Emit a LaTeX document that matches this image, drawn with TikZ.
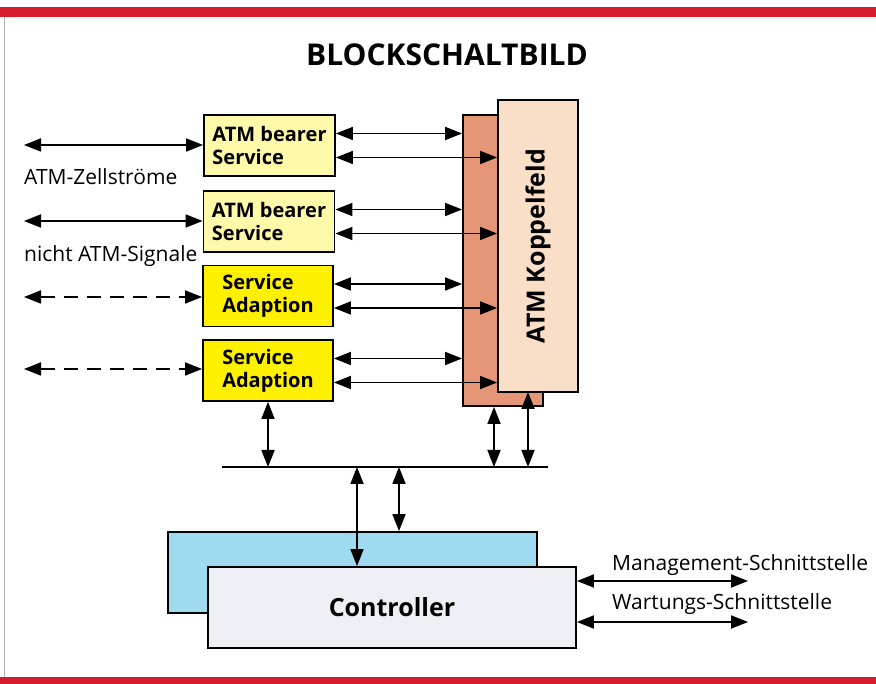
\documentclass[tikz,border=0pt]{standalone}
\usepackage{fontspec}
\setmainfont{Open Sans}
\usetikzlibrary{arrows.meta, calc}

\definecolor{rahmenrot}{RGB}{214,28,45}
\definecolor{hellgelb}{RGB}{255,250,170}
\definecolor{sattgelb}{RGB}{255,240,0}
\definecolor{lachs}{RGB}{228,150,118}
\definecolor{pfirsich}{RGB}{249,222,200}
\definecolor{hellblau}{RGB}{160,218,238}
\definecolor{grauweiss}{RGB}{238,239,245}

\tikzset{
    block/.style={draw, line width=1.8pt, align=left, inner sep=0pt,
        font=\bfseries\fontsize{20}{23}\selectfont},
    bearer/.style={block, fill=hellgelb, minimum width=131pt, minimum height=61pt},
    adapt/.style={block, fill=sattgelb, minimum width=130pt, minimum height=61pt},
    link/.style={<->, >={Triangle[length=17pt,width=13pt]}, line width=1.8pt},
    dashlink/.style={link, dash pattern=on 14pt off 9pt},
    sig/.style={anchor=west, inner sep=0pt, font=\fontsize{21}{25}\selectfont}
}

\begin{document}
\begin{tikzpicture}[x=1pt, y=-1pt]
        \useasboundingbox (0,0) rectangle (876,684);
        \fill[rahmenrot] (0,7) rectangle (876,17);
        \fill[rahmenrot] (0,677) rectangle (876,684);
        \draw[gray!60, line width=1pt] (4,17) -- (4,677);

        \node[font=\bfseries\fontsize{30}{36}\selectfont] (titel) at (447,55) {BLOCKSCHALTBILD};

        % Koppelfeld
        \node[draw, line width=1.8pt, fill=lachs, minimum width=80pt, minimum height=291pt] (kb) at (503,260.5) {};
        \node[draw, line width=1.8pt, fill=pfirsich, minimum width=80pt, minimum height=292pt] (kf) at (538,246) {};
        \node[rotate=90, font=\bfseries\fontsize{25}{30}\selectfont] (ktext) at (kf.center) {ATM Koppelfeld};

        % Anschlussbloecke
        \node[bearer] (b1) at (269.5,145.5) {ATM bearer\\Service};
        \node[bearer] (b2) at (269,221.5) {ATM bearer\\Service};
        \node[adapt] (b3) at (268,296) {Service\\Adaption};
        \node[adapt] (b4) at (268,370.5) {Service\\Adaption};

        \foreach \b in {b1, b2, b3, b4} {
            \coordinate (o) at ([yshift=12pt]\b.east);
            \coordinate (u) at ([yshift=-12pt]\b.east);
            \draw[link] (o) -- (o -| kb.west);
            \draw[link] (u) -- (u -| kf.west);
        }

        % Eingaenge
        \coordinate (in1) at (24,145);
        \coordinate (in2) at (24,221);
        \coordinate (in3) at (24,297);
        \coordinate (in4) at (24,369);
        \draw[link] (in1) -- (in1 -| b1.west);
        \draw[link] (in2) -- (in2 -| b2.west);
        \draw[dashlink] (in3) -- (in3 -| b3.west);
        \draw[dashlink] (in4) -- (in4 -| b4.west);
        \node[sig] (zell) at (24,177) {ATM-Zellstr\"ome};
        \node[sig] (nicht) at (24,256) {nicht ATM-Signale};

        % Bus
        \coordinate (busl) at (222,467);
        \coordinate (busr) at (548,467);
        \draw[line width=1.8pt] (busl) -- (busr);
        \coordinate (t1) at ([xshift=-9pt]kb.south);
        \coordinate (t2) at (528,392);
        \draw[link] (b4.south) -- (b4.south |- busl);
        \draw[link] (t1) -- (t1 |- busl);
        \draw[link] (t2) -- (t2 |- busl);

        % Controller
        \node[draw, line width=1.8pt, fill=hellblau, minimum width=369pt, minimum height=81pt] (cb) at (352.5,572.5) {};
        \node[draw, line width=1.8pt, fill=grauweiss, minimum width=368pt, minimum height=81pt,
            font=\bfseries\fontsize{25}{30}\selectfont] (cf) at (392,607.5) {Controller};

        \coordinate (t3) at (357,467);
        \coordinate (t4) at (399,467);
        \draw[link] (t3) -- (t3 |- cf.north);
        \draw[link] (t4) -- (t4 |- cb.north);

        % Schnittstellen
        \coordinate (m) at ([yshift=26.5pt]cf.east);
        \coordinate (w) at ([yshift=-14.5pt]cf.east);
        \coordinate (me) at (748,581);
        \coordinate (we) at (748,622);
        \draw[link] (m) -- (me);
        \draw[link] (w) -- (we);
        \node[sig] (mgmt) at (612,565) {Management-Schnittstelle};
        \node[sig] (wart) at (612,604) {Wartungs-Schnittstelle};
    \end{tikzpicture}
\end{document}
